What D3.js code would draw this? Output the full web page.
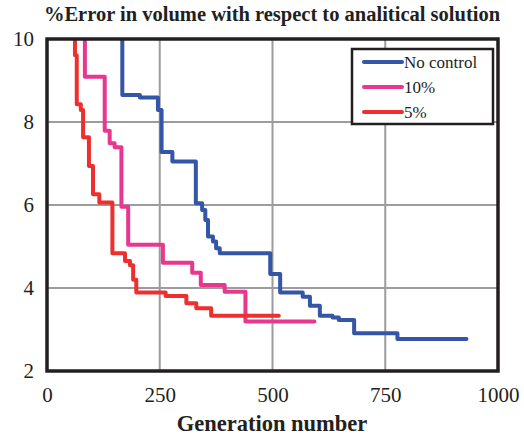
<!DOCTYPE html>
<html><head><meta charset="utf-8">
<script src="https://cdn.jsdelivr.net/npm/d3@7"></script>
</head><body style="margin:0">
<svg id="c" width="524" height="440"></svg>
<script>
const title = "%Error in volume with respect to analitical solution";
const xLabel = "Generation number";
const xTicks = [0, 250, 500, 750, 1000];
const yTicks = [2, 4, 6, 8, 10];
const seriesNames = ["No control", "10%", "5%"];
const seriesColors = ["#3356a6", "#e8378f", "#ee2f30"];
// step data: [generation, %error] (value holds from that generation on)
const noControl = [[167,10],[167,8.65],[206,8.59],[246,8.29],[254,7.28],[278,7.05],[330,6.04],[344,5.88],[351,5.64],[357,5.24],[368,5.12],[375,4.96],[383,4.84],[495,4.34],[517,3.89],[567,3.79],[583,3.57],[605,3.33],[633,3.29],[647,3.23],[681,2.91],[777,2.77],[930,2.77]];
const tenPct = [[84,10],[84,9.09],[128,7.79],[139,7.49],[150,7.39],[165,5.96],[180,5.04],[257,4.61],[322,4.37],[341,4.07],[394,3.91],[440,3.19],[593,3.19]];
const fivePct = [[62,10],[62,9.61],[66,8.43],[75,8.29],[80,7.63],[93,6.94],[102,6.26],[116,6.06],[145,4.84],[173,4.65],[184,4.55],[191,4.2],[198,3.89],[263,3.81],[309,3.63],[331,3.51],[364,3.33],[514,3.33]];
const allSeries = [noControl, tenPct, fivePct];

const svg = d3.select("#c");
const m = {l:47, r:26, t:39, b:69};
const W = 524, H = 440;
const x = d3.scaleLinear().domain([0,1000]).range([m.l, W-m.r]);
const y = d3.scaleLinear().domain([2,10]).range([H-m.b, m.t]);
const fam = "Liberation Serif";
const ink = "#231f20";

// grid
svg.append("g").selectAll("line").data(xTicks).join("line")
  .attr("x1", d=>x(d)).attr("x2", d=>x(d)).attr("y1", y(2)).attr("y2", y(10))
  .attr("stroke", "#9a9c9e").attr("stroke-width", 2);
svg.append("g").selectAll("line").data(yTicks).join("line")
  .attr("x1", x(0)).attr("x2", x(1000)).attr("y1", d=>y(d)).attr("y2", d=>y(d))
  .attr("stroke", "#9a9c9e").attr("stroke-width", 2);

// clip
svg.append("clipPath").attr("id","clip").append("rect")
  .attr("x", x(0)).attr("y", y(10)).attr("width", x(1000)-x(0)).attr("height", y(2)-y(10));

const line = d3.line().x(d=>x(d[0])).y(d=>y(d[1])).curve(d3.curveStepAfter);
svg.append("g").attr("clip-path","url(#clip)").selectAll("path").data(allSeries).join("path")
  .attr("d", line).attr("fill","none")
  .attr("stroke", (d,i)=>seriesColors[i]).attr("stroke-width", 4)
  .attr("stroke-linejoin","round").attr("stroke-linecap","round");

// frame
svg.append("rect").attr("x", x(0)).attr("y", y(10)).attr("width", x(1000)-x(0)).attr("height", y(2)-y(10))
  .attr("fill","none").attr("stroke",ink).attr("stroke-width",3.5);

// axes
const xAxis = svg.append("g").attr("transform",`translate(0,${y(2)})`)
  .call(d3.axisBottom(x).tickValues(xTicks).tickSize(0).tickPadding(16).tickFormat(d3.format("d")));
const yAxis = svg.append("g").attr("transform",`translate(${x(0)},0)`)
  .call(d3.axisLeft(y).tickValues(yTicks).tickSize(0).tickPadding(13).tickFormat(d3.format("d")));
[xAxis, yAxis].forEach(a=>{
  a.attr("font-family", fam).attr("font-size", 21);
  a.select(".domain").remove();
  a.selectAll("text").attr("font-family", fam).attr("font-size", 21).attr("fill",ink);
});

// title & label
svg.append("text").attr("x", 272).attr("y", 21).attr("text-anchor","middle")
  .attr("font-family", fam).attr("font-weight","bold").attr("font-size",20.5).attr("fill",ink).text(title);
svg.append("text").attr("x", 272).attr("y", 431).attr("text-anchor","middle")
  .attr("font-family", fam).attr("font-weight","bold").attr("font-size",22.5).attr("fill",ink).text(xLabel);

// legend
const lg = svg.append("g");
lg.append("rect").attr("x", 352).attr("y", 49).attr("width", 141).attr("height", 75)
  .attr("fill","#fff").attr("stroke",ink).attr("stroke-width",2.5);
seriesNames.forEach((n,i)=>{
  const yy = 62 + i*25;
  lg.append("line").attr("x1", 364).attr("x2", 402).attr("y1", yy).attr("y2", yy)
    .attr("stroke", seriesColors[i]).attr("stroke-width", 4).attr("stroke-linecap","round");
  lg.append("text").attr("x", 404).attr("y", yy+6).attr("font-family", fam).attr("font-size",17)
    .attr("fill",ink).text(n);
});
</script>
</body></html>
